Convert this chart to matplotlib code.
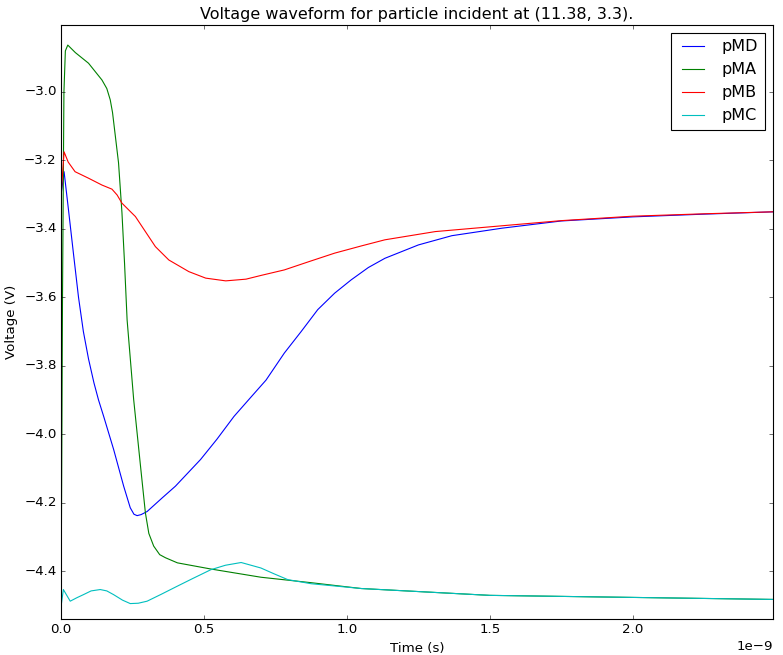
import numpy as np
import matplotlib
matplotlib.use("Agg")
import matplotlib.pyplot as plt

plt.style.use("classic")

# time points (ns) and voltages (V)
t_md = [0.0, 0.0105, 0.026, 0.043, 0.061, 0.078, 0.096, 0.115, 0.131, 0.149, 0.184, 0.219,
        0.242, 0.255, 0.266, 0.28, 0.301, 0.354, 0.40, 0.488, 0.545, 0.605, 0.664, 0.717,
        0.781, 0.84, 0.898, 0.957, 1.015, 1.075, 1.133, 1.25, 1.367, 1.543, 1.75, 2.0,
        2.25, 2.5]
v_md = [-3.30, -3.233, -3.345, -3.47, -3.60, -3.70, -3.78, -3.85, -3.90, -3.948, -4.045, -4.152,
        -4.215, -4.234, -4.238, -4.235, -4.226, -4.186, -4.152, -4.074, -4.015, -3.948, -3.892, -3.842,
        -3.763, -3.70, -3.636, -3.588, -3.549, -3.513, -3.486, -3.447, -3.420, -3.398, -3.377, -3.365,
        -3.357, -3.350]

t_ma = [0.0, 0.005, 0.010, 0.015, 0.0235, 0.05, 0.096, 0.143, 0.16, 0.172, 0.18, 0.19,
        0.201, 0.213, 0.222, 0.231, 0.254, 0.278, 0.295, 0.307, 0.324, 0.345, 0.365, 0.407,
        0.524, 0.699, 0.875, 1.05, 1.5, 2.0, 2.5]
v_ma = [-4.50, -3.60, -3.00, -2.88, -2.863, -2.885, -2.916, -2.965, -2.99, -3.023, -3.06, -3.13,
        -3.207, -3.353, -3.50, -3.666, -3.899, -4.094, -4.230, -4.29, -4.327, -4.352, -4.361, -4.376,
        -4.394, -4.418, -4.434, -4.451, -4.471, -4.477, -4.483]

t_mb = [0.0, 0.0105, 0.025, 0.049, 0.096, 0.143, 0.178, 0.196, 0.213, 0.237, 0.26, 0.295,
        0.33, 0.377, 0.447, 0.506, 0.576, 0.647, 0.70, 0.781, 0.87, 0.957, 1.05, 1.133,
        1.309, 1.543, 1.75, 2.0, 2.25, 2.5]
v_mb = [-3.30, -3.175, -3.205, -3.233, -3.252, -3.272, -3.284, -3.301, -3.325, -3.345, -3.364, -3.408,
        -3.452, -3.491, -3.525, -3.544, -3.552, -3.547, -3.536, -3.520, -3.495, -3.471, -3.450, -3.432,
        -3.408, -3.391, -3.376, -3.363, -3.356, -3.350]

t_mc = [0.0, 0.008, 0.032, 0.055, 0.078, 0.105, 0.137, 0.16, 0.184, 0.215, 0.242, 0.27,
        0.301, 0.35, 0.407, 0.46, 0.524, 0.575, 0.63, 0.699, 0.745, 0.793, 0.875, 1.05,
        1.5, 2.0, 2.5]
v_mc = [-4.503, -4.454, -4.488, -4.478, -4.469, -4.458, -4.454, -4.458, -4.469, -4.485, -4.495, -4.494,
        -4.488, -4.468, -4.444, -4.422, -4.396, -4.383, -4.375, -4.391, -4.408, -4.425, -4.437, -4.451,
        -4.471, -4.477, -4.483]

series = [("pMD", t_md, v_md, "b"), ("pMA", t_ma, v_ma, "g"),
          ("pMB", t_mb, v_mb, "r"), ("pMC", t_mc, v_mc, "c")]

fig = plt.figure(figsize=(783 / 80, 655 / 80), dpi=80)
fig.subplots_adjust(left=0.078, right=0.987, bottom=0.055, top=0.962)
ax = fig.add_subplot(111)

for name, t, v, col in series:
    ax.plot(np.array(t) * 1e-9, v, color=col, label=name)

ax.set_xlim(0, 2.49e-9)
ax.set_ylim(-4.54, -2.804)
ax.set_yticks(np.arange(-4.4, -2.99, 0.2))
ax.set_xlabel("Time (s)")
ax.set_ylabel("Voltage (V)")
ax.set_title("Voltage waveform for particle incident at (11.38, 3.3).")
ax.legend(loc="upper right")

fig.savefig("out.png", dpi=80)
